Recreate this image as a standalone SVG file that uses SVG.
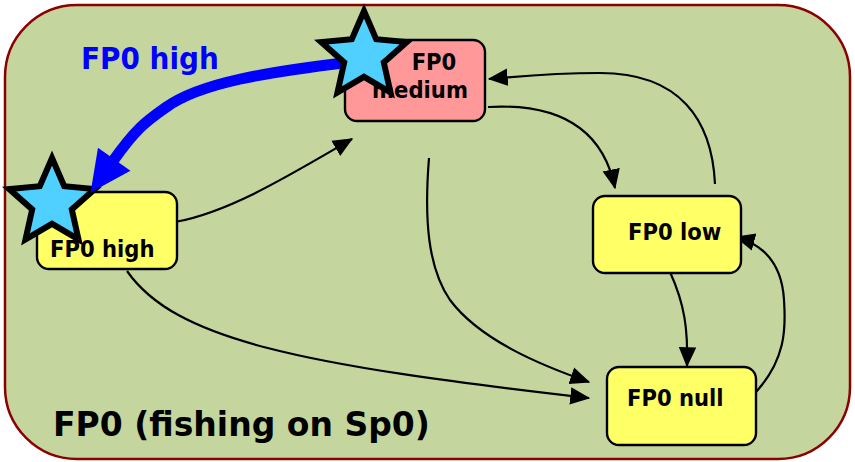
<svg xmlns="http://www.w3.org/2000/svg" xmlns:xlink="http://www.w3.org/1999/xlink" width="855" height="462" viewBox="0 0 855 462">
<style>
.node rect{stroke:#000;stroke-width:2.4}
.lbl{font-family:"DejaVu Sans Condensed","DejaVu Sans",sans-serif;font-weight:bold;font-size:23.5px;fill:#000}
.conn path{fill:none;stroke:#000;stroke-width:2.2}
.star{fill:#4FD0FF;stroke:#000;stroke-width:6;stroke-linejoin:miter}
</style>
<defs>
<marker id="ah" markerUnits="userSpaceOnUse" markerWidth="20" markerHeight="20" viewBox="0 -8 16 16" refX="15" refY="0" orient="auto">
<path d="M0,-7 L16,0 L0,7 z" fill="#000"/>
</marker>
<marker id="bh" markerUnits="userSpaceOnUse" markerWidth="44" markerHeight="44" viewBox="0 -21 40 42" refX="2" refY="0" orient="auto">
<path d="M0,-19 L39,0 L0,19 z" fill="#0000FF"/>
</marker>
<path id="starShape" d="M0,-45 L12.2,-16.8 L42.8,-13.9 L19.8,6.4 L26.5,36.4 L0,20.8 L-26.5,36.4 L-19.8,6.4 L-42.8,-13.9 L-12.2,-16.8 Z"/>
</defs>
<rect id="frame" x="5" y="5" width="845" height="454" rx="72" ry="72" fill="#C4D69E" stroke="#8B0000" stroke-width="2.5"/>
<text x="53" y="436" font-family="DejaVu Sans, sans-serif" font-weight="bold" font-size="33" fill="#000">FP0 (fishing on Sp0)</text>
<g id="connectors" class="conn">
<path d="M175,222 C230,212 290,175 352,139" marker-end="url(#ah)"/>
<path d="M488,107 C560,103 603,130 615,188" marker-end="url(#ah)"/>
<path d="M715,184 C712,120 680,73 600,73 C560,73 520,76 489,79" marker-end="url(#ah)"/>
<path d="M429,158 C424,220 428,268 450,300 C480,340 540,365 589,382" marker-end="url(#ah)"/>
<path d="M127,271 C175,340 300,365 589,398" marker-end="url(#ah)"/>
<path d="M670,272 C685,305 688,330 687,366" marker-end="url(#ah)"/>
<path d="M750,398 C790,360 785,320 784,300 C782,265 765,245 736,237" marker-end="url(#ah)"/>
</g>
<g id="node-medium" class="node">
<rect x="345" y="40" width="140" height="81" rx="12" fill="#FF9999"/>
<text class="lbl" x="434" y="70" text-anchor="middle">FP0</text>
<text class="lbl" x="420" y="98" text-anchor="middle">medium</text>
</g>
<g id="node-high" class="node">
<rect x="37" y="192" width="140" height="77" rx="12" fill="#FFFF66"/>
<text class="lbl" x="50" y="257">FP0 high</text>
</g>
<g id="node-low" class="node">
<rect x="593" y="196" width="148" height="77" rx="12" fill="#FFFF66"/>
<text class="lbl" x="628" y="240">FP0 low</text>
</g>
<g id="node-null" class="node">
<rect x="607" y="367" width="149" height="78" rx="12" fill="#FFFF66"/>
<text class="lbl" x="627" y="406">FP0 null</text>
</g>
<use id="star-high" xlink:href="#starShape" href="#starShape" class="star" transform="translate(52,203)"/>
<g id="blue-arrow">
<path d="M350,62 C270,72 200,82 165,108 C145,122 135,130 113,161" fill="none" stroke="#0000FF" stroke-width="11" marker-end="url(#bh)"/>
<text x="81" y="69" font-family="DejaVu Sans Condensed, DejaVu Sans, sans-serif" font-weight="bold" font-size="31" fill="#0000FF">FP0 high</text>
</g>
<use id="star-medium" xlink:href="#starShape" href="#starShape" class="star" transform="translate(364,56)"/>
</svg>
